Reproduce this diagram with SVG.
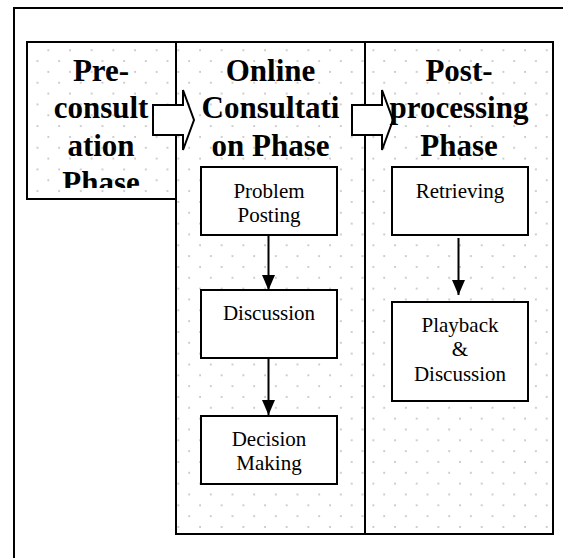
<svg xmlns="http://www.w3.org/2000/svg" width="563" height="558" viewBox="0 0 563 558">
<defs>
<pattern id="dots" patternUnits="userSpaceOnUse" x="0" y="0" width="21.67" height="21.67">
<circle cx="5" cy="6.9" r="0.9" fill="#b8b8b8"/>
<circle cx="15.8" cy="17.7" r="0.9" fill="#b8b8b8"/>
</pattern>
<marker id="ah" viewBox="0 0 15 13" refX="15" refY="6.5" markerWidth="15" markerHeight="13" markerUnits="userSpaceOnUse" orient="auto">
<path d="M0,0 L15,6.5 L0,13 Z" fill="#000"/>
</marker>
<clipPath id="preclip"><rect x="27" y="42" width="149" height="146"/></clipPath>
</defs>
<style>
.frame{fill:#fff;stroke:#000;stroke-width:2}
.col{fill:url(#dots);stroke:#000;stroke-width:2}
.box{fill:#fff;stroke:#000;stroke-width:2}
.blk{fill:#fff;stroke:#000;stroke-width:2;stroke-linejoin:miter}
.h{font-family:"Liberation Serif","Times New Roman",serif;font-weight:bold;font-size:31px;fill:#000;text-anchor:middle}
.t{font-family:"Liberation Serif","Times New Roman",serif;font-size:21px;fill:#000;text-anchor:middle}
.conn{stroke:#000;stroke-width:2;fill:none}
</style>
<rect class="frame" x="14" y="8" width="580" height="580"/>
<g id="online-phase">
<rect class="col" x="176" y="42" width="189" height="492"/>
</g>
<g id="post-phase">
<rect class="col" x="365" y="42" width="188" height="492"/>
</g>
<g id="pre-phase">
<rect class="col" x="27" y="42" width="149" height="157"/>
</g>
<g id="phase-arrows">
<polygon class="blk" points="153,105 183,105 183,90 194,120 183,150 183,135 153,135"/>
<polygon class="blk" points="352,105 382,105 382,90 393,120 382,150 382,135 352,135"/>
</g>
<g id="pre-label" clip-path="url(#preclip)">
<text class="h" x="101" y="81">Pre-</text>
<text class="h" x="101" y="118">consult</text>
<text class="h" x="101" y="156">ation</text>
<text class="h" x="101" y="193">Phase</text>
</g>
<g id="online-label">
<text class="h" x="270.5" y="81">Online</text>
<text class="h" x="270.5" y="118">Consultati</text>
<text class="h" x="270.5" y="156">on Phase</text>
</g>
<g id="post-label">
<text class="h" x="459" y="81">Post-</text>
<text class="h" x="459" y="118">processing</text>
<text class="h" x="459" y="156">Phase</text>
</g>
<g id="problem-posting">
<rect class="box" x="201" y="167" width="136" height="68"/>
<text class="t" x="269" y="198">Problem</text>
<text class="t" x="269" y="222">Posting</text>
</g>
<g id="discussion">
<rect class="box" x="201" y="290" width="136" height="68"/>
<text class="t" x="269" y="320">Discussion</text>
</g>
<g id="decision-making">
<rect class="box" x="201" y="416" width="136" height="68"/>
<text class="t" x="269" y="446">Decision</text>
<text class="t" x="269" y="470">Making</text>
</g>
<g id="retrieving">
<rect class="box" x="392" y="167" width="136" height="68"/>
<text class="t" x="460" y="198">Retrieving</text>
</g>
<g id="playback-discussion">
<rect class="box" x="392" y="302" width="136" height="99"/>
<text class="t" x="460" y="332">Playback</text>
<text class="t" x="460" y="356">&amp;</text>
<text class="t" x="460" y="381">Discussion</text>
</g>
<g id="connectors">
<line class="conn" x1="268.5" y1="235" x2="268.5" y2="290" marker-end="url(#ah)"/>
<line class="conn" x1="268.5" y1="358" x2="268.5" y2="415" marker-end="url(#ah)"/>
<line class="conn" x1="458.5" y1="238" x2="458.5" y2="295" marker-end="url(#ah)"/>
</g>
</svg>
